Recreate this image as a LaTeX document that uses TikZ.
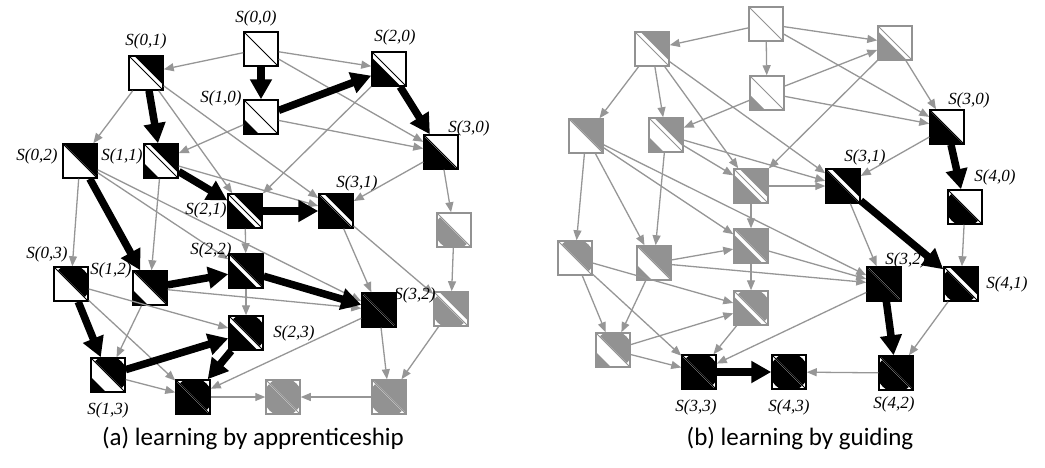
\documentclass[tikz,border=0pt]{standalone}
\usepackage{fontspec}
\setmainfont{Liberation Serif}
\newfontfamily\capfont{Carlito}
\usetikzlibrary{arrows.meta}
\definecolor{lgray}{RGB}{150,150,150}
\definecolor{ngray}{RGB}{146,146,146}
% lower-left part of a state box: 0 none, 1 corner, 2 banded triangle, 3 full triangle, 4 half disc
\newcommand\llfill[2]{%
  \ifcase#1\relax
  \or \fill[#2] (-17,2)--(-17,17)--(-2,17)--cycle;
  \or \fill[#2] (-17,-11.5)--(-17,17)--(11.5,17)--cycle;
  \or \fill[#2] (-17,-16)--(-17,17)--(16,17)--cycle;
  \or \begin{scope}\clip (-17,-16)--(-17,17)--(16,17)--cycle; \fill[#2] (0,0) circle[radius=19pt];\end{scope}
  \fi}
% upper-right part: 0 none, 1 banded triangle, 2 full triangle, 3 half disc
\newcommand\urfill[2]{%
  \ifcase#1\relax
  \or \fill[#2] (-11.5,-17)--(17,-17)--(17,11.5)--cycle;
  \or \fill[#2] (-16,-17)--(17,-17)--(17,16)--cycle;
  \or \begin{scope}\clip (-16,-17)--(17,-17)--(17,16)--cycle; \fill[#2] (0,0) circle[radius=19pt];\end{scope}
  \fi}
\newcommand\stnode[6]{%
  \begin{scope}[shift={(#2,#3)}]
    \fill[white] (-17,-17) rectangle (17,17);
    \begin{scope}
      \clip (-17,-17) rectangle (17,17);
      \llfill{#4}{#6}
      \urfill{#5}{#6}
      \draw[#6, line width=0.8pt] (-17,-17) -- (17,17);
    \end{scope}
  \end{scope}
  \node[box, draw=#6] (#1) at (#2,#3) {};
}
\begin{document}
\begin{tikzpicture}[x=1pt,y=-1pt,
  box/.style={line width=1.5pt, minimum size=34pt, inner sep=0pt},
  gedge/.style={draw=lgray, line width=1.3pt, -{Triangle[length=10pt,width=8pt]}},
  bedge/.style={draw=black, line width=7.5pt, -{Triangle[length=20pt,width=21pt]}},
  lab/.style={font=\itshape\fontsize{17}{17}\selectfont, inner sep=0pt},
  captext/.style={font=\capfont\fontsize{25}{25}\selectfont, inner sep=0pt}]
\useasboundingbox (0,0) rectangle (1045,467);
% ---------- panel (a)
\stnode{a00}{261}{49}{0}{0}{black}
\stnode{a01}{146}{73}{0}{1}{black}
\stnode{a10}{261}{117}{1}{0}{black}
\stnode{a20}{389}{69}{2}{0}{black}
\stnode{a30}{441}{152}{3}{0}{black}
\stnode{a02}{80}{161}{0}{2}{black}
\stnode{a11}{161}{161}{1}{1}{black}
\stnode{a21}{245}{211}{2}{1}{black}
\stnode{a31}{336}{211}{3}{1}{black}
\stnode{a40}{454}{230}{4}{0}{ngray}
\stnode{a03}{71}{284}{0}{3}{black}
\stnode{a12}{150}{288}{1}{2}{black}
\stnode{a22}{246}{271}{2}{2}{black}
\stnode{a23}{246}{333}{2}{3}{black}
\stnode{a32}{379}{310}{3}{2}{black}
\stnode{a41}{451}{309}{4}{1}{ngray}
\stnode{a13}{108}{375}{1}{3}{black}
\stnode{a33}{193}{397}{3}{3}{black}
\stnode{a43}{283}{397}{4}{3}{ngray}
\stnode{a42}{389}{397}{4}{2}{ngray}
% ---------- panel (b)
\stnode{b00}{766}{24}{0}{0}{ngray}
\stnode{b01}{652}{49}{0}{1}{ngray}
\stnode{b10}{767}{93}{1}{0}{ngray}
\stnode{b20}{895}{43}{2}{0}{ngray}
\stnode{b30}{947}{127}{3}{0}{black}
\stnode{b02}{586}{136}{0}{2}{ngray}
\stnode{b11}{666}{135}{1}{1}{ngray}
\stnode{b21}{751}{186}{2}{1}{ngray}
\stnode{b31}{843}{186}{3}{1}{black}
\stnode{b40}{965}{207}{4}{0}{black}
\stnode{b03}{575}{258}{0}{3}{ngray}
\stnode{b12}{654}{263}{1}{2}{ngray}
\stnode{b22}{751}{246}{2}{2}{ngray}
\stnode{b23}{751}{308}{2}{3}{ngray}
\stnode{b32}{884}{284}{3}{2}{black}
\stnode{b41}{961}{284}{4}{1}{black}
\stnode{b13}{613}{350}{1}{3}{ngray}
\stnode{b33}{699}{372}{3}{3}{black}
\stnode{b43}{789}{372}{4}{3}{black}
\stnode{b42}{896}{373}{4}{2}{black}
% ---------- connectors common to both panels
\foreach \p in {a,b}{
  \foreach \j in {0,...,3}{
    \foreach \i/\k in {0/2,0/3,1/3} \draw[gedge] (\p\i\j) -- (\p\k\j);
  }
  \foreach \i in {0,...,4}{
    \foreach \j/\n in {0/1,1/2,2/3} \draw[gedge] (\p\i\j) -- (\p\i\n);
  }
}
\foreach \j in {0,...,3}{
  \foreach \i/\k in {0/1,1/2,2/3}{
    \draw[bedge] (a\i\j) -- (a\k\j);
    \draw[gedge] (b\i\j) -- (b\k\j);
  }
  \draw[gedge] (a3\j) -- (a4\j);
  \draw[bedge] (b3\j) -- (b4\j);
}
% ---------- labels
\node[lab] (la00) at (256,18) {S(0,0)};
\node[lab] (la01) at (146,41) {S(0,1)};
\node[lab] (la10) at (221,98) {S(1,0)};
\node[lab] (la20) at (395,37) {S(2,0)};
\node[lab] (la30) at (469,128) {S(3,0)};
\node[lab] (la02) at (37,156) {S(0,2)};
\node[lab] (la11) at (122,156) {S(1,1)};
\node[lab] (la21) at (206,210) {S(2,1)};
\node[lab] (la31) at (357,183) {S(3,1)};
\node[lab] (la03) at (47,254) {S(0,3)};
\node[lab] (la12) at (111,270) {S(1,2)};
\node[lab] (la22) at (211,250) {S(2,2)};
\node[lab] (la23) at (294,333) {S(2,3)};
\node[lab] (la32) at (415,295) {S(3,2)};
\node[lab] (la13) at (108,410) {S(1,3)};
\node[lab] (lb30) at (969,100) {S(3,0)};
\node[lab] (lb31) at (865,157) {S(3,1)};
\node[lab] (lb40) at (995,177) {S(4,0)};
\node[lab] (lb32) at (906,260) {S(3,2)};
\node[lab] (lb41) at (1007,284) {S(4,1)};
\node[lab] (lb42) at (894,404) {S(4,2)};
\node[lab] (lb33) at (696,407) {S(3,3)};
\node[lab] (lb43) at (789,407) {S(4,3)};
% ---------- captions
\node[captext] (capa) at (253,438) {(a) learning by apprenticeship};
\node[captext] (capb) at (800,438) {(b) learning by guiding};
\end{tikzpicture}
\end{document}
